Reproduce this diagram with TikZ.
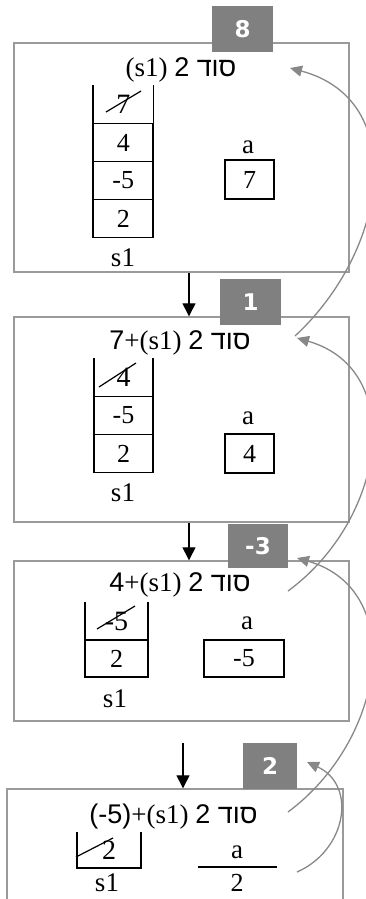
\documentclass[tikz,border=0pt]{standalone}
\usepackage{fontspec}
\setmainfont{Liberation Serif}
\newfontfamily\hebfont[Script=Hebrew]{Liberation Sans}
\newfontfamily\numsans{Liberation Sans}
\newfontfamily\badgefont{DejaVu Sans}
\TeXXeTstate=1
\usetikzlibrary{arrows.meta}

\definecolor{framegray}{HTML}{9A9A9A}
\definecolor{badgegray}{HTML}{808080}
\definecolor{retgray}{HTML}{888888}

\tikzset{
  frame/.style={draw=framegray, line width=1.4pt, rectangle, inner sep=0pt},
  badge/.style={fill=badgegray, text=white, inner sep=0pt,
    font=\badgefont\bfseries\fontsize{23}{23}\selectfont},
  title/.style={inner sep=0pt, font=\fontsize{27}{27}\selectfont},
  cell/.style={draw, line width=1.8pt, minimum height=38pt, inner sep=0pt,
    font=\fontsize{26}{26}\selectfont},
  opencell/.style={minimum height=38pt, inner sep=0pt,
    font=\fontsize{28}{28}\selectfont},
  lbl/.style={inner sep=0pt, font=\fontsize{27}{27}\selectfont},
  val/.style={inner sep=0pt, font=\fontsize{26}{26}\selectfont},
  strike/.style={line width=1.2pt},
  side/.style={line width=1.8pt},
  callarrow/.style={line width=1.3pt, -{Triangle[length=13pt,width=13pt]}},
  retarrow/.style={draw=retgray, line width=1.3pt,
    -{Triangle[length=12pt,width=11pt]}, color=retgray}
}

\newcommand{\sod}{{\hebfont\beginR סוד 2\endR}}

\begin{document}
\begin{tikzpicture}[x=1pt,y=-1pt]
\clip (0,0) rectangle (366,899);

% ---- frames of the four calls ----
\node[frame, minimum width=335pt, minimum height=229pt] (f1) at (181.5,157.5) {};
\node[frame, minimum width=335pt, minimum height=205pt] (f2) at (181.5,419.5) {};
\node[frame, minimum width=335pt, minimum height=160pt] (f3) at (181.5,641) {};
\node[frame, minimum width=336pt, minimum height=140pt] (f4) at (175,859) {};

% ---- returned values ----
\node[badge, minimum width=61pt, minimum height=46pt] (b1) at (242.5,29) {8};
\node[badge, minimum width=61pt, minimum height=46pt] (b2) at (250.5,302) {1};
\node[badge, minimum width=60pt, minimum height=44pt] (b3) at (258,546) {-3};
\node[badge, minimum width=54pt, minimum height=46pt] (b4) at (270,766) {2};

% ---- call 1 ----
\node[title] (t1) at (181,70) {(s1) \sod};
\node[opencell, minimum width=60pt] (c11) at (123.3,104.5) {7};
\draw[side] (c11.north west) -- (c11.south west) (c11.north east) -- (c11.south east);
\node[cell, minimum width=60pt] (c12) at (123.3,142.5) {4};
\node[cell, minimum width=60pt] (c13) at (123.3,180.5) {-5};
\node[cell, minimum width=60pt] (c14) at (123.3,218.5) {2};
\node[lbl] (s1a) at (123,258) {s1};
\node[lbl] (la1) at (248,147) {a};
\node[cell, minimum width=49pt, minimum height=39pt] (va1) at (249.5,179.5) {7};
\coordinate (x11) at (106,112);
\coordinate (x12) at (141,91);
\draw[strike] (x11) -- (x12);

% ---- call 2 ----
\node[title] (t2) at (180,343) {{\numsans 7}+(s1) \sod};
\node[opencell, minimum width=59pt] (c21) at (123.5,377.5) {4};
\draw[side] (c21.north west) -- (c21.south west) (c21.north east) -- (c21.south east);
\node[cell, minimum width=59pt] (c22) at (123.5,415.5) {-5};
\node[cell, minimum width=59pt] (c23) at (123.5,453.5) {2};
\node[lbl] (s1b) at (123,493) {s1};
\node[lbl] (la2) at (248,418) {a};
\node[cell, minimum width=49pt, minimum height=39pt] (va2) at (249.5,453.5) {4};
\coordinate (x21) at (99,387);
\coordinate (x22) at (136,363);
\draw[strike] (x21) -- (x22);

% ---- call 3 ----
\node[title] (t3) at (180,585) {{\numsans 4}+(s1) \sod};
\node[opencell, minimum width=63pt] (c31) at (116.5,621) {-5};
\draw[side] (c31.north west) -- (c31.south west) (c31.north east) -- (c31.south east);
\node[cell, minimum width=63pt, minimum height=37pt] (c32) at (116.5,658.5) {2};
\node[lbl] (s1c) at (115,699) {s1};
\node[lbl] (la3) at (247,623) {a};
\node[cell, minimum width=80pt, minimum height=37pt] (va3) at (244,658.5) {-5};
\coordinate (x31) at (97,629);
\coordinate (x32) at (135,606);
\draw[strike] (x31) -- (x32);

% ---- call 4 ----
\node[title] (t4) at (173.5,817) {{\numsans(-5)}+(s1) \sod};
\node[opencell, minimum width=64pt, minimum height=36pt] (c41) at (109,850) {2};
\draw[side] (c41.north west) -- (c41.south west) -- (c41.south east) -- (c41.north east);
\node[lbl] (s1d) at (107,883) {s1};
\node[lbl] (la4) at (237,852) {a};
\coordinate (u1) at (198,867);
\coordinate (u2) at (277,867);
\draw[line width=1.8pt] (u1) -- (u2);
\node[val] (va4) at (237,883) {2};
\coordinate (x41) at (76,857);
\coordinate (x42) at (113,838);
\draw[strike] (x41) -- (x42);

% ---- recursive calls ----
\coordinate (d1) at (189,0);
\coordinate (d3) at (183,743);
\draw[callarrow] (f1.south -| d1) -- (f2.north -| d1);
\draw[callarrow] (f2.south -| d1) -- (f3.north -| d1);
\draw[callarrow] (d3) -- (f4.north -| d3);

% ---- values handed back up ----
\coordinate (r1s) at (295,336);
\coordinate (r1e) at (290,68);
\coordinate (r2s) at (288,591);
\coordinate (r2e) at (297,338);
\coordinate (r3s) at (288,812);
\coordinate (r3e) at (297,558);
\coordinate (r4s) at (297,872);
\coordinate (r4e) at (307,762);
\draw[retarrow] (r1s) .. controls (388,250) and (410,100) .. (r1e);
\draw[retarrow] (r2s) .. controls (385,520) and (408,370) .. (r2e);
\draw[retarrow] (r3s) .. controls (385,740) and (408,590) .. (r3e);
\draw[retarrow] (r4s) .. controls (347,850) and (357,785) .. (r4e);
\end{tikzpicture}
\end{document}
